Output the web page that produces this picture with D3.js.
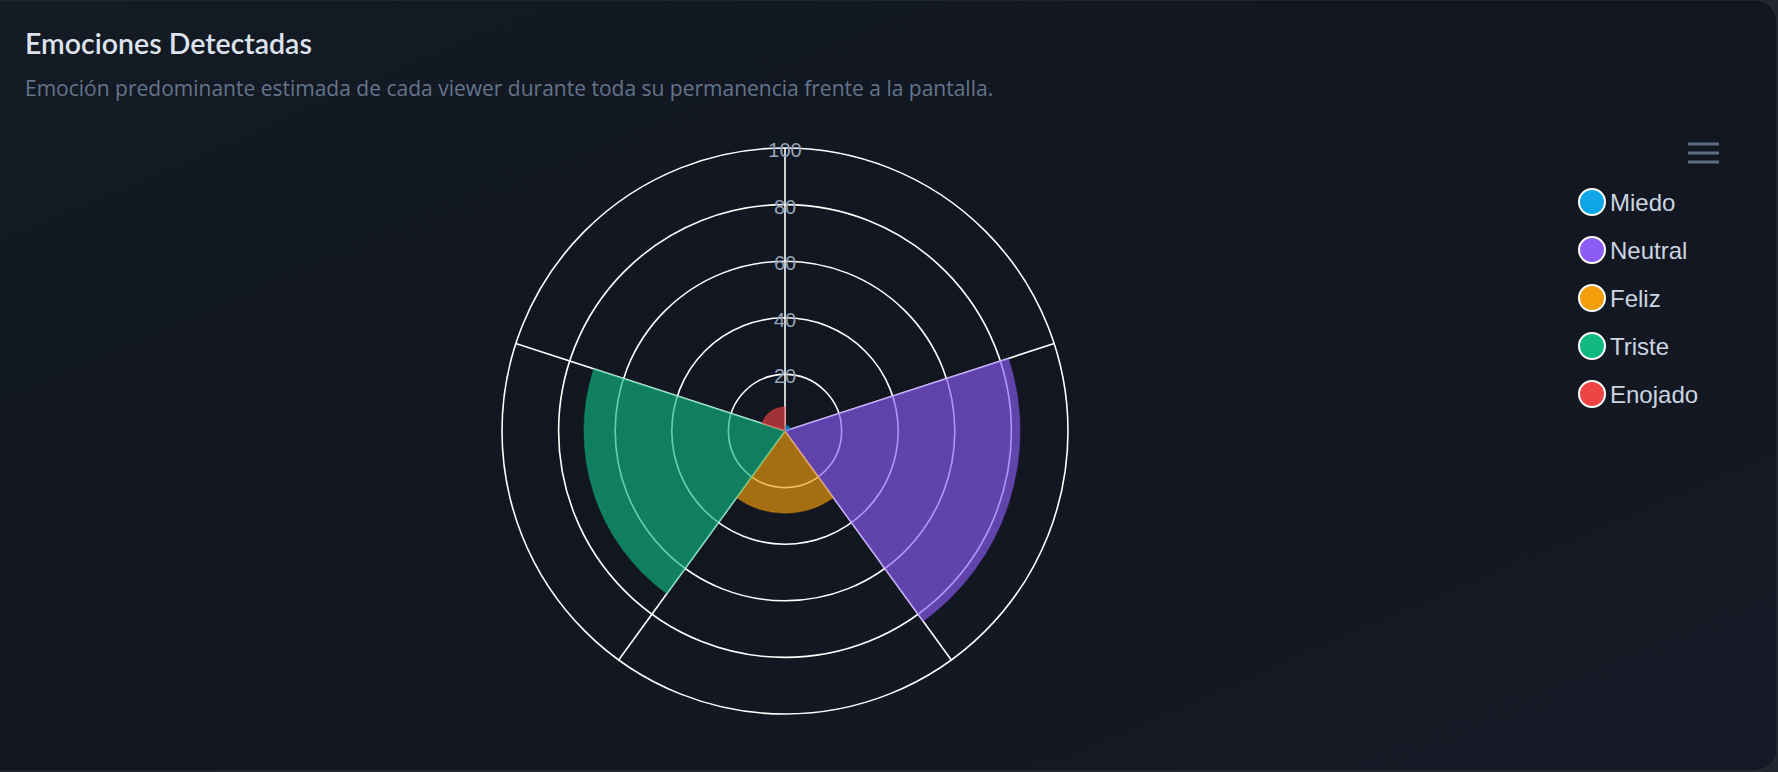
<!DOCTYPE html>
<html>
<head>
<meta charset="utf-8">
<script src="https://cdn.jsdelivr.net/npm/d3@7"></script>
<style>
  html, body { margin: 0; padding: 0; background: #22262f; }
  svg { display: block; }
</style>
</head>
<body>
<div id="chart"></div>
<script>
// data
var emociones = ["Miedo", "Neutral", "Feliz", "Triste", "Enojado"];
var valores = [2, 83, 29, 71, 8.5];
var colores = ["#0ea5e9", "#8b5cf6", "#f59e0b", "#10b981", "#ef4444"];
var ticks = [20, 40, 60, 80, 100];

var width = 1778,
    height = 772,
    cx = 785,
    cy = 431,
    maxR = 283;

var svg = d3.select("#chart")
    .append("svg")
    .attr("width", width)
    .attr("height", height);

var defs = svg.append("defs");
var grad = defs.append("linearGradient")
    .attr("id", "cardBg")
    .attr("x1", "0").attr("y1", "0")
    .attr("x2", "1").attr("y2", "1");
grad.append("stop").attr("offset", "0%").attr("stop-color", "#141b25");
grad.append("stop").attr("offset", "50%").attr("stop-color", "#111620");
grad.append("stop").attr("offset", "100%").attr("stop-color", "#171a26");

// card
svg.append("rect")
    .attr("x", -30)
    .attr("y", 0)
    .attr("width", width + 29)
    .attr("height", height - 1)
    .attr("rx", 22)
    .attr("fill", "url(#cardBg)")
    .attr("stroke", "#2a303d")
    .attr("stroke-width", 1);

// title + subtitle
svg.append("text")
    .attr("x", 25)
    .attr("y", 54)
    .attr("font-family", "Lato, 'Open Sans', sans-serif")
    .attr("font-weight", 600)
    .attr("font-size", 28.5)
    .attr("fill", "#dde3ec")
    .text("Emociones Detectadas");

svg.append("text")
    .attr("x", 25)
    .attr("y", 96)
    .attr("font-family", "'Open Sans', Lato, sans-serif")
    .attr("font-size", 21)
    .attr("fill", "#64748b")
    .text("Emoción predominante estimada de cada viewer durante toda su permanencia frente a la pantalla.");

var r = d3.scaleLinear().domain([0, 100]).range([0, maxR]);
var step = 2 * Math.PI / emociones.length;

var g = svg.append("g").attr("transform", "translate(" + cx + "," + cy + ")");

// grid rings
g.selectAll("circle.ring")
    .data(ticks)
    .enter()
    .append("circle")
    .attr("class", "ring")
    .attr("r", function (d) { return r(d); })
    .attr("fill", "none")
    .attr("stroke", "#ffffff")
    .attr("stroke-width", 1.6);

// spokes
g.selectAll("line.spoke")
    .data(emociones)
    .enter()
    .append("line")
    .attr("class", "spoke")
    .attr("x1", 0).attr("y1", 0)
    .attr("x2", function (d, i) { return Math.sin(i * step) * r(100); })
    .attr("y2", function (d, i) { return -Math.cos(i * step) * r(100); })
    .attr("stroke", "#ffffff")
    .attr("stroke-width", 1.6);

// slices
var arc = d3.arc()
    .innerRadius(0)
    .outerRadius(function (d) { return r(d.v); })
    .startAngle(function (d) { return d.i * step; })
    .endAngle(function (d) { return (d.i + 1) * step; });

g.selectAll("path.slice")
    .data(valores.map(function (v, i) { return {v: v, i: i}; }))
    .enter()
    .append("path")
    .attr("class", "slice")
    .attr("d", arc)
    .attr("fill", function (d) { return colores[d.i]; })
    .attr("fill-opacity", 0.65)
    .attr("stroke", function (d) { return colores[d.i]; })
    .attr("stroke-opacity", 0.3)
    .attr("stroke-width", 1.5);

// tick labels on top
g.selectAll("text.tick")
    .data(ticks)
    .enter()
    .append("text")
    .attr("class", "tick")
    .attr("x", 0)
    .attr("y", function (d) { return -r(d) + 2; })
    .attr("text-anchor", "middle")
    .attr("dominant-baseline", "central")
    .attr("font-family", "'Liberation Sans', Arial, sans-serif")
    .attr("font-size", 20)
    .attr("fill", "#94a3b8")
    .text(function (d) { return d; });

// menu icon
svg.selectAll("line.menu")
    .data([144, 153, 162])
    .enter()
    .append("line")
    .attr("class", "menu")
    .attr("x1", 1688).attr("x2", 1719)
    .attr("y1", function (d) { return d; })
    .attr("y2", function (d) { return d; })
    .attr("stroke", "#5f6d84")
    .attr("stroke-width", 3);

// legend
var legend = svg.selectAll("g.legend")
    .data(emociones)
    .enter()
    .append("g")
    .attr("class", "legend")
    .attr("transform", function (d, i) { return "translate(1592," + (202 + i * 48) + ")"; });

legend.append("circle")
    .attr("r", 13)
    .attr("fill", function (d, i) { return colores[i]; })
    .attr("stroke", "#ffffff")
    .attr("stroke-width", 2);

legend.append("text")
    .attr("x", 18)
    .attr("y", 8.5)
    .attr("font-family", "'Liberation Sans', Arial, sans-serif")
    .attr("font-size", 24)
    .attr("fill", "#cbd5e1")
    .text(function (d) { return d; });
</script>
</body>
</html>
